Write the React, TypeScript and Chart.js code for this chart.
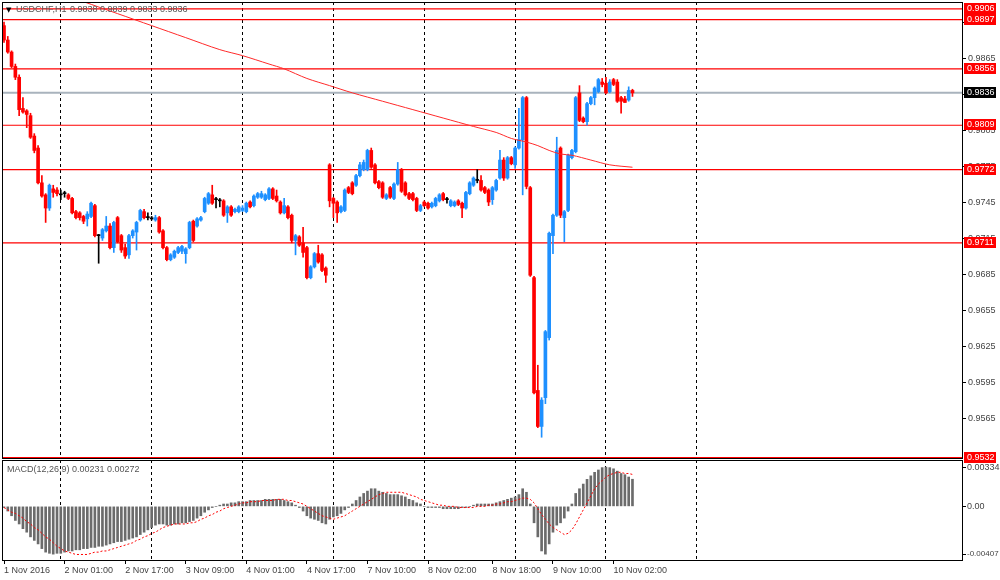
import React, { useEffect, useRef } from "react";
import { Chart, registerables } from "chart.js";

Chart.register(...registerables);

// ---------------- data ----------------
const SYMBOL = "USDCHF,H1";

const OPEN = [
  0.9892, 0.9880, 0.9870, 0.9858, 0.9849, 0.9823, 0.9821, 0.9817, 0.9800, 0.9790,
  0.9761, 0.9751, 0.9740, 0.9756, 0.9755, 0.9751, 0.9752, 0.9751, 0.9748, 0.9737,
  0.9736, 0.9733, 0.9731, 0.9733, 0.9742, 0.9717, 0.9715, 0.9721, 0.9725, 0.9707,
  0.9732, 0.9717, 0.9707, 0.9701, 0.9717, 0.9720, 0.9730, 0.9737, 0.9732, 0.9731,
  0.9730, 0.9732, 0.9721, 0.9707, 0.9697, 0.9699, 0.9703, 0.9704, 0.9702, 0.9707,
  0.9729, 0.9725, 0.9730, 0.9737, 0.9744, 0.9751, 0.9747, 0.9746, 0.9746, 0.9736,
  0.9741, 0.9737, 0.9737, 0.9738, 0.9737, 0.9745, 0.9742, 0.9749, 0.9749, 0.9747,
  0.9748, 0.9756, 0.9750, 0.9745, 0.9736, 0.9741, 0.9734, 0.9713, 0.9716, 0.9711,
  0.9707, 0.9682, 0.9691, 0.9702, 0.9701, 0.9690, 0.9776, 0.9748, 0.9745, 0.9737,
  0.9738, 0.9757, 0.9761, 0.9759, 0.9767, 0.9772, 0.9772, 0.9788, 0.9776, 0.9762,
  0.9761, 0.9748, 0.9757, 0.9748, 0.9760, 0.9772, 0.9761, 0.9752, 0.9752, 0.9748,
  0.9738, 0.9745, 0.9744, 0.9741, 0.9742, 0.9746, 0.9752, 0.9747, 0.9742, 0.9742,
  0.9746, 0.9744, 0.9740, 0.9752, 0.9759, 0.9763, 0.9763, 0.9757, 0.9755, 0.9747,
  0.9755, 0.9765, 0.9780, 0.9765, 0.9782, 0.9776, 0.9790, 0.9797, 0.9832, 0.9757,
  0.9682, 0.9588, 0.9558, 0.9582, 0.9632, 0.9717, 0.9734, 0.9790, 0.9732, 0.9738,
  0.9782, 0.9787, 0.9836, 0.9815, 0.9812, 0.9827, 0.9832, 0.9837, 0.9845, 0.9844,
  0.9837, 0.9847, 0.9845, 0.9832, 0.9831, 0.9830, 0.9838,
];
const HIGH = [
  0.9895, 0.9883, 0.9871, 0.9860, 0.9851, 0.9832, 0.9822, 0.9819, 0.9802, 0.9792,
  0.9767, 0.9752, 0.9760, 0.9759, 0.9757, 0.9755, 0.9754, 0.9752, 0.9749, 0.9738,
  0.9737, 0.9734, 0.9737, 0.9745, 0.9743, 0.9718, 0.9723, 0.9733, 0.9727, 0.9729,
  0.9733, 0.9718, 0.9710, 0.9718, 0.9722, 0.9729, 0.9739, 0.9739, 0.9736, 0.9733,
  0.9734, 0.9733, 0.9722, 0.9708, 0.9702, 0.9705, 0.9708, 0.9709, 0.9707, 0.9729,
  0.9730, 0.9732, 0.9733, 0.9749, 0.9753, 0.9759, 0.9749, 0.9748, 0.9747, 0.9742,
  0.9742, 0.9740, 0.9742, 0.9742, 0.9745, 0.9746, 0.9751, 0.9753, 0.9754, 0.9752,
  0.9757, 0.9757, 0.9755, 0.9746, 0.9748, 0.9742, 0.9735, 0.9718, 0.9717, 0.9724,
  0.9708, 0.9692, 0.9703, 0.9709, 0.9702, 0.9691, 0.9777, 0.9749, 0.9746, 0.9742,
  0.9756, 0.9758, 0.9762, 0.9768, 0.9778, 0.9780, 0.9789, 0.9790, 0.9777, 0.9763,
  0.9762, 0.9752, 0.9758, 0.9761, 0.9778, 0.9773, 0.9762, 0.9753, 0.9753, 0.9749,
  0.9743, 0.9746, 0.9745, 0.9745, 0.9749, 0.9752, 0.9753, 0.9749, 0.9747, 0.9746,
  0.9747, 0.9745, 0.9754, 0.9762, 0.9766, 0.9772, 0.9767, 0.9758, 0.9756, 0.9758,
  0.9764, 0.9788, 0.9782, 0.9783, 0.9783, 0.9791, 0.9823, 0.9833, 0.9833, 0.9758,
  0.9683, 0.9609, 0.9582, 0.9638, 0.9720, 0.9735, 0.9799, 0.9791, 0.9738, 0.9785,
  0.9789, 0.9833, 0.9842, 0.9816, 0.9828, 0.9833, 0.9841, 0.9848, 0.9848, 0.9849,
  0.9847, 0.9848, 0.9847, 0.9833, 0.9833, 0.9841, 0.9839,
];
const LOW = [
  0.9878, 0.9869, 0.9857, 0.9847, 0.9817, 0.9819, 0.9807, 0.9798, 0.9786, 0.9760,
  0.9749, 0.9728, 0.9738, 0.9749, 0.9750, 0.9747, 0.9749, 0.9747, 0.9735, 0.9731,
  0.9730, 0.9727, 0.9725, 0.9732, 0.9716, 0.9694, 0.9713, 0.9720, 0.9706, 0.9703,
  0.9711, 0.9703, 0.9698, 0.9698, 0.9715, 0.9705, 0.9729, 0.9731, 0.9730, 0.9730,
  0.9729, 0.9719, 0.9706, 0.9696, 0.9696, 0.9698, 0.9702, 0.9702, 0.9694, 0.9706,
  0.9712, 0.9724, 0.9729, 0.9736, 0.9743, 0.9743, 0.9740, 0.9741, 0.9733, 0.9728,
  0.9733, 0.9736, 0.9736, 0.9737, 0.9736, 0.9740, 0.9741, 0.9748, 0.9748, 0.9746,
  0.9747, 0.9747, 0.9745, 0.9735, 0.9735, 0.9731, 0.9711, 0.9701, 0.9708, 0.9699,
  0.9681, 0.9681, 0.9690, 0.9694, 0.9687, 0.9678, 0.9741, 0.9732, 0.9728, 0.9736,
  0.9737, 0.9752, 0.9751, 0.9758, 0.9766, 0.9771, 0.9771, 0.9773, 0.9760, 0.9756,
  0.9748, 0.9747, 0.9748, 0.9747, 0.9759, 0.9753, 0.9750, 0.9747, 0.9746, 0.9737,
  0.9737, 0.9741, 0.9739, 0.9740, 0.9741, 0.9745, 0.9746, 0.9744, 0.9741, 0.9741,
  0.9742, 0.9732, 0.9739, 0.9751, 0.9758, 0.9761, 0.9754, 0.9752, 0.9742, 0.9743,
  0.9754, 0.9764, 0.9763, 0.9764, 0.9776, 0.9773, 0.9789, 0.9751, 0.9756, 0.9683,
  0.9585, 0.9557, 0.9549, 0.9577, 0.9630, 0.9702, 0.9733, 0.9732, 0.9712, 0.9737,
  0.9781, 0.9786, 0.9812, 0.9811, 0.9809, 0.9826, 0.9826, 0.9836, 0.9841, 0.9835,
  0.9836, 0.9842, 0.9828, 0.9819, 0.9828, 0.9829, 0.9833,
];
const CLOSE = [
  0.9880, 0.9870, 0.9858, 0.9849, 0.9822, 0.9820, 0.9818, 0.9799, 0.9788, 0.9761,
  0.9750, 0.9740, 0.9759, 0.9753, 0.9752, 0.9751, 0.9752, 0.9748, 0.9736, 0.9732,
  0.9732, 0.9729, 0.9735, 0.9744, 0.9717, 0.9717, 0.9722, 0.9725, 0.9707, 0.9728,
  0.9712, 0.9705, 0.9700, 0.9717, 0.9721, 0.9728, 0.9738, 0.9732, 0.9732, 0.9731,
  0.9732, 0.9720, 0.9707, 0.9697, 0.9701, 0.9704, 0.9707, 0.9708, 0.9706, 0.9728,
  0.9713, 0.9731, 0.9732, 0.9748, 0.9752, 0.9744, 0.9747, 0.9746, 0.9734, 0.9741,
  0.9734, 0.9739, 0.9741, 0.9740, 0.9744, 0.9741, 0.9750, 0.9752, 0.9752, 0.9751,
  0.9756, 0.9748, 0.9746, 0.9736, 0.9742, 0.9732, 0.9713, 0.9717, 0.9709, 0.9703,
  0.9682, 0.9691, 0.9702, 0.9695, 0.9688, 0.9684, 0.9746, 0.9744, 0.9736, 0.9741,
  0.9755, 0.9753, 0.9752, 0.9767, 0.9776, 0.9778, 0.9788, 0.9774, 0.9761, 0.9757,
  0.9749, 0.9751, 0.9749, 0.9760, 0.9772, 0.9754, 0.9751, 0.9748, 0.9747, 0.9738,
  0.9742, 0.9742, 0.9740, 0.9744, 0.9748, 0.9751, 0.9747, 0.9747, 0.9746, 0.9745,
  0.9743, 0.9740, 0.9753, 0.9761, 0.9765, 0.9763, 0.9755, 0.9753, 0.9745, 0.9757,
  0.9763, 0.9780, 0.9765, 0.9782, 0.9777, 0.9790, 0.9797, 0.9832, 0.9758, 0.9684,
  0.9586, 0.9558, 0.9580, 0.9637, 0.9719, 0.9734, 0.9788, 0.9734, 0.9737, 0.9784,
  0.9788, 0.9832, 0.9813, 0.9812, 0.9827, 0.9832, 0.9840, 0.9847, 0.9843, 0.9836,
  0.9845, 0.9843, 0.9829, 0.9829, 0.9828, 0.9838, 0.9836,
];

// moving average (red line) sampled at bar indexes
const MA_BARS = [15, 21, 30, 39, 48, 57, 63, 70, 74, 80, 86, 92, 100, 108, 116, 124, 130, 134, 138, 141, 144, 147, 150, 155, 160, 166];
const MA_VALUES = [0.9919, 0.9912, 0.9902, 0.9892, 0.9882, 0.9872, 0.9867, 0.9860, 0.9856, 0.9848, 0.9842, 0.9836, 0.9829, 0.9822, 0.9815, 0.9808, 0.9803, 0.9798, 0.9795, 0.9792, 0.9788, 0.9785, 0.9784, 0.9780, 0.9776, 0.9774];

const MACD_NAME = "MACD(12,26,9)";
const MACD_MAIN = [
  -0.0001, -0.0004, -0.0008, -0.0012, -0.0015, -0.0019, -0.0022, -0.0026, -0.0029, -0.0032,
  -0.0036, -0.0039, -0.0040, -0.00407, -0.0040, -0.0040, -0.0039, -0.0038, -0.0038, -0.0037,
  -0.0037, -0.0036, -0.0036, -0.0035, -0.0035, -0.0034, -0.0034, -0.0033, -0.0032, -0.0031,
  -0.0030, -0.0030, -0.0029, -0.0028, -0.0027, -0.0026, -0.0024, -0.0022, -0.0020, -0.0018,
  -0.0016, -0.0015, -0.0015, -0.0016, -0.0016, -0.0015, -0.0015, -0.0014, -0.0014, -0.0013,
  -0.0012, -0.0010, -0.0008, -0.0005, -0.0003, -0.0001, 0.0000, 0.0001, 0.0002, 0.0002,
  0.0003, 0.0003, 0.0004, 0.0004, 0.0004, 0.0005, 0.0005, 0.0005, 0.0005, 0.0006,
  0.0006, 0.0006, 0.0006, 0.0006, 0.0005, 0.0004, 0.0003, 0.0001, -0.0001, -0.0004,
  -0.0008, -0.0010, -0.0011, -0.0012, -0.0014, -0.0015, -0.0011, -0.0009, -0.0008, -0.0006,
  -0.0003, -0.0001, 0.0002, 0.0005, 0.0008, 0.0011, 0.0013, 0.0015, 0.0015, 0.0013,
  0.0012, 0.0011, 0.0010, 0.0010, 0.0010, 0.0009, 0.0008, 0.0006, 0.0005, 0.0003,
  0.0002, 0.0000, -0.0001, -0.0001, -0.0001, -0.0001, -0.0002, -0.0002, -0.0002, -0.0002,
  -0.0002, -0.0001, -0.0001, 0.0000, 0.0001, 0.0002, 0.0002, 0.0002, 0.0002, 0.0002,
  0.0003, 0.0004, 0.0005, 0.0006, 0.0007, 0.0008, 0.0010, 0.0015, 0.0012, 0.0002,
  -0.0014, -0.0026, -0.0038, -0.00407, -0.0032, -0.0022, -0.0016, -0.0014, -0.0010, -0.0004,
  0.0002, 0.0011, 0.0015, 0.0019, 0.0023, 0.0026, 0.0029, 0.0031, 0.0033, 0.00334,
  0.0033, 0.0032, 0.0030, 0.0028, 0.0027, 0.0025, 0.00231,
];
const MACD_SIGNAL = [
  -0.0001, -0.0003, -0.0005, -0.0006, -0.0008, -0.0010, -0.0013, -0.0015, -0.0018, -0.0020,
  -0.0023, -0.0026, -0.0028, -0.0031, -0.0034, -0.0036, -0.0038, -0.0039, -0.0040, -0.0041,
  -0.0041, -0.0041, -0.0041, -0.0040, -0.0039, -0.0039, -0.0038, -0.0038, -0.0037, -0.0036,
  -0.0035, -0.0034, -0.0033, -0.0032, -0.0031, -0.0029, -0.0028, -0.0026, -0.0025, -0.0023,
  -0.0022, -0.0020, -0.0018, -0.0017, -0.0016, -0.0015, -0.0015, -0.0015, -0.0015, -0.0014,
  -0.0014, -0.0013, -0.0011, -0.0010, -0.0008, -0.0007, -0.0005, -0.0004, -0.0002, -0.0001,
  0.0000, 0.0001, 0.0002, 0.0003, 0.0003, 0.0004, 0.0004, 0.0004, 0.0005, 0.0005,
  0.0005, 0.0005, 0.0006, 0.0006, 0.0006, 0.0005, 0.0005, 0.0004, 0.0003, 0.0002,
  0.0000, -0.0002, -0.0004, -0.0006, -0.0008, -0.0009, -0.0010, -0.0011, -0.0010, -0.0009,
  -0.0008, -0.0006, -0.0004, -0.0002, 0.0000, 0.0002, 0.0004, 0.0006, 0.0008, 0.0010,
  0.0011, 0.0012, 0.0012, 0.0012, 0.0012, 0.0012, 0.0011, 0.0010, 0.0009, 0.0008,
  0.0006, 0.0005, 0.0004, 0.0003, 0.0002, 0.0001, 0.0001, 0.0000, 0.0000, 0.0000,
  -0.0001, -0.0001, -0.0001, -0.0001, -0.0001, 0.0000, 0.0000, 0.0000, 0.0001, 0.0001,
  0.0002, 0.0002, 0.0003, 0.0004, 0.0004, 0.0005, 0.0006, 0.0007, 0.0007, 0.0006,
  0.0003, -0.0002, -0.0007, -0.0011, -0.0015, -0.0018, -0.0020, -0.0022, -0.0024, -0.0023,
  -0.0020, -0.0015, -0.0009, -0.0003, 0.0003, 0.0009, 0.0015, 0.0019, 0.0022, 0.0025,
  0.0027, 0.0028, 0.0029, 0.0029, 0.0028, 0.0028, 0.00272,
];

const RED_LEVELS = [0.9906, 0.9897, 0.9856, 0.9809, 0.9772, 0.9711, 0.9532];
const BID_LEVEL = 0.9836;
const PRICE_TICKS = [0.9565, 0.9595, 0.9625, 0.9655, 0.9685, 0.9715, 0.9745, 0.9775, 0.9805, 0.9835, 0.9865, 0.9895];
const MACD_TICKS = [-0.00407, 0, 0.00334];
const TIME_TICKS = [0, 16, 32, 48, 64, 80, 96, 112, 129, 145, 161];
const TIME_LABELS = [
  "1 Nov 2016", "2 Nov 01:00", "2 Nov 17:00", "3 Nov 09:00", "4 Nov 01:00", "4 Nov 17:00",
  "7 Nov 10:00", "8 Nov 02:00", "8 Nov 18:00", "9 Nov 10:00", "10 Nov 02:00",
];
const DAY_STARTS = [15, 39, 63, 87, 111, 135, 159, 183];

// ---------------- styling ----------------
const FONT = '"Liberation Sans", Arial, sans-serif';
const BULL = "#1e90ff";
const BEAR = "#ff0000";
const DOJI = "#000000";
const X_MIN = -0.53;
const X_MAX = 253.04;
const PRICE_MIN = 0.95317;
const PRICE_MAX = 0.99117;
const MACD_MIN = -0.00457;
const MACD_MAX = 0.00395;

const candleColors = OPEN.map((o, i) => (CLOSE[i] > o ? BULL : CLOSE[i] < o ? BEAR : DOJI));

const framePlugin = {
  id: "frame",
  afterDraw(chart: any) {
    const { ctx, chartArea: a } = chart;
    ctx.save();
    ctx.strokeStyle = "#000";
    ctx.lineWidth = 1;
    ctx.strokeRect(a.left + 0.5, a.top + 0.5, a.right - a.left, a.bottom - a.top);
    ctx.restore();
  },
};

const mainOverlay = {
  id: "mainOverlay",
  afterDraw(chart: any) {
    const { ctx, chartArea: a, scales } = chart;
    const ys = scales.y;
    ctx.save();
    ctx.textBaseline = "middle";
    ctx.textAlign = "left";
    const tag = (v: number, bg: string) => {
      const py = Math.round(ys.getPixelForValue(v));
      ctx.fillStyle = bg;
      ctx.fillRect(a.right + 2, py - 6, 32, 11);
      ctx.fillStyle = "#ffffff";
      ctx.font = `9px ${FONT}`;
      ctx.fillText(v.toFixed(4), a.right + 5, py);
    };
    RED_LEVELS.forEach((v) => tag(v, "#ff0000"));
    tag(BID_LEVEL, "#000000");
    const n = CLOSE.length - 1;
    ctx.fillStyle = "#000";
    ctx.font = `7px "DejaVu Sans"`;
    ctx.fillText("▼", a.left + 4, a.top + 8);
    ctx.fillStyle = "#555";
    ctx.font = `9px ${FONT}`;
    ctx.fillText(SYMBOL, a.left + 14, a.top + 8);
    ctx.fillText(
      [OPEN[n], HIGH[n], LOW[n], CLOSE[n]].map((v) => v.toFixed(4)).join(" "),
      a.left + 68,
      a.top + 8
    );
    ctx.restore();
  },
};

const macdOverlay = {
  id: "macdOverlay",
  afterDraw(chart: any) {
    const { ctx, chartArea: a } = chart;
    const n = MACD_MAIN.length - 1;
    ctx.save();
    ctx.textBaseline = "middle";
    ctx.textAlign = "left";
    ctx.fillStyle = "#555";
    ctx.font = `9px ${FONT}`;
    ctx.fillText(`${MACD_NAME} ${MACD_MAIN[n].toFixed(5)} ${MACD_SIGNAL[n].toFixed(5)}`, a.left + 5, a.top + 10);
    ctx.restore();
  },
};

const noPad = (s: any) => {
  s.paddingTop = 0;
  s.paddingBottom = 0;
  s.paddingLeft = 0;
  s.paddingRight = 0;
};

function dayGridAxis(): any {
  return {
    type: "linear",
    min: X_MIN,
    max: X_MAX,
    offset: false,
    position: "bottom",
    afterBuildTicks: (s: any) => {
      s.ticks = DAY_STARTS.map((v) => ({ value: v }));
    },
    afterFit: (s: any) => {
      s.height = 0;
      noPad(s);
    },
    ticks: { display: false },
    grid: { display: true, drawOnChartArea: true, drawTicks: false, color: "#000", lineWidth: 1, offset: false },
    border: { display: false, dash: [3, 3] },
  };
}

function mainConfig(): any {
  const levelSets = RED_LEVELS.map((v) => ({
    type: "line",
    data: [{ x: X_MIN, y: v }, { x: X_MAX, y: v }],
    borderColor: "#ff0000",
    borderWidth: 1.2,
    pointRadius: 0,
    order: 5,
  }));
  return {
    type: "bar",
    data: {
      datasets: [
        ...levelSets,
        {
          type: "line",
          data: [{ x: X_MIN, y: BID_LEVEL }, { x: X_MAX, y: BID_LEVEL }],
          borderColor: "#a9b3bd",
          borderWidth: 2,
          pointRadius: 0,
          order: 5,
        },
        {
          type: "bar",
          data: LOW.map((l, i) => ({ x: i, y: [l, HIGH[i]] })),
          backgroundColor: candleColors,
          borderWidth: 0,
          barThickness: 1,
          grouped: false,
          order: 3,
        },
        {
          type: "bar",
          data: OPEN.map((o, i) => ({ x: i, y: [o, CLOSE[i]] })),
          backgroundColor: candleColors,
          borderWidth: 0,
          barThickness: 3,
          minBarLength: 1,
          grouped: false,
          order: 2,
        },
        {
          type: "line",
          data: MA_BARS.map((b, k) => ({ x: b, y: MA_VALUES[k] })),
          borderColor: "#ff2a2a",
          borderWidth: 1,
          pointRadius: 0,
          tension: 0.3,
          order: 1,
        },
      ],
    },
    options: {
      responsive: false,
      animation: false,
      events: [],
      layout: { padding: { left: 2, top: 2, right: 0, bottom: 12 } },
      plugins: { legend: { display: false }, tooltip: { enabled: false }, title: { display: false } },
      scales: {
        x: dayGridAxis(),
        y: {
          type: "linear",
          position: "right",
          min: PRICE_MIN,
          max: PRICE_MAX,
          afterBuildTicks: (s: any) => {
            s.ticks = PRICE_TICKS.map((v) => ({ value: v }));
          },
          afterFit: (s: any) => {
            s.width = 38;
            noPad(s);
          },
          ticks: {
            font: { family: FONT, size: 9 },
            color: "#444",
            padding: 2,
            autoSkip: false,
            callback: (v: any) => Number(v).toFixed(4),
          },
          grid: { drawOnChartArea: false, drawTicks: true, tickLength: 4, tickColor: "#000" },
          border: { display: true, color: "#000" },
        },
      },
    },
    plugins: [framePlugin, mainOverlay],
  };
}

function macdConfig(): any {
  return {
    type: "bar",
    data: {
      datasets: [
        {
          type: "bar",
          data: MACD_MAIN.map((v, i) => ({ x: i, y: v })),
          backgroundColor: "#6b6b6b",
          borderWidth: 0,
          barThickness: 2,
          grouped: false,
          order: 2,
        },
        {
          type: "line",
          data: MACD_SIGNAL.map((v, i) => ({ x: i, y: v })),
          borderColor: "#ff0000",
          borderWidth: 1,
          borderDash: [2, 2],
          pointRadius: 0,
          order: 1,
        },
      ],
    },
    options: {
      responsive: false,
      animation: false,
      events: [],
      layout: { padding: { left: 2, top: 1, right: 0, bottom: 0 } },
      plugins: { legend: { display: false }, tooltip: { enabled: false }, title: { display: false } },
      scales: {
        x: {
          type: "linear",
          min: X_MIN,
          max: X_MAX,
          offset: false,
          position: "bottom",
          afterBuildTicks: (s: any) => {
            s.ticks = TIME_TICKS.map((v) => ({ value: v }));
          },
          afterFit: (s: any) => {
            s.height = 20;
            noPad(s);
          },
          ticks: {
            align: "start",
            autoSkip: false,
            maxRotation: 0,
            minRotation: 0,
            padding: 1,
            font: { family: FONT, size: 9 },
            color: "#444",
            callback: (_v: any, idx: number) => TIME_LABELS[idx],
          },
          grid: { display: true, drawOnChartArea: false, drawTicks: true, tickLength: 4, tickColor: "#000", offset: false },
          border: { display: false },
        },
        xg: dayGridAxis(),
        y: {
          type: "linear",
          position: "right",
          min: MACD_MIN,
          max: MACD_MAX,
          afterBuildTicks: (s: any) => {
            s.ticks = MACD_TICKS.map((v) => ({ value: v }));
          },
          afterFit: (s: any) => {
            s.width = 38;
            noPad(s);
          },
          ticks: {
            font: (c: any) => ({ family: FONT, size: c.tick && c.tick.value < 0 ? 8 : 9 }),
            color: "#444",
            padding: 1,
            autoSkip: false,
            callback: (v: any) => (Number(v) === 0 ? "0.00" : Number(v).toFixed(5)),
          },
          grid: { drawOnChartArea: false, drawTicks: true, tickLength: 4, tickColor: "#000" },
          border: { display: true, color: "#000" },
        },
      },
    },
    plugins: [framePlugin, macdOverlay],
  };
}

export default function App() {
  const mainRef = useRef<HTMLCanvasElement | null>(null);
  const macdRef = useRef<HTMLCanvasElement | null>(null);

  useEffect(() => {
    document.body.style.margin = "0";
    const c1 = new Chart(mainRef.current as HTMLCanvasElement, mainConfig());
    const c2 = new Chart(macdRef.current as HTMLCanvasElement, macdConfig());
    return () => {
      c1.destroy();
      c2.destroy();
    };
  }, []);

  return (
    <div style={{ position: "relative", width: 1000, height: 580, background: "#fff", overflow: "hidden" }}>
      <canvas
        ref={macdRef}
        width={1000}
        height={121}
        style={{ position: "absolute", left: 0, top: 459, width: 1000, height: 121, zIndex: 1 }}
      />
      <canvas
        ref={mainRef}
        width={1000}
        height={470}
        style={{ position: "absolute", left: 0, top: 0, width: 1000, height: 470, zIndex: 2 }}
      />
    </div>
  );
}
